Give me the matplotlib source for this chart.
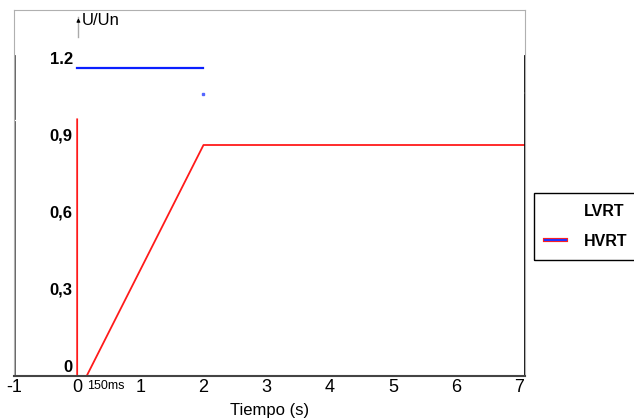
import numpy as np
import matplotlib
matplotlib.use('Agg')
import matplotlib.pyplot as plt
from matplotlib.lines import Line2D
from matplotlib.legend_handler import HandlerTuple
from matplotlib.patches import Rectangle

plt.rcParams['font.family'] = ['Liberation Sans', 'DejaVu Sans']

# Curvas LVRT / HVRT (tiempo en s, tension en p.u.)
lvrt_t = [0, 0, 0.15, 2.0, 7.1]
lvrt_u = [1.0, 0, 0, 0.9, 0.9]
hvrt_t = [0, 2.0]
hvrt_u = [1.2, 1.2]
hvrt_tail_t = [2.0]
hvrt_tail_u = [1.1]

x_ticks = [-1, 0, 1, 2, 3, 4, 5, 6, 7]
y_ticks = [0, 0.3, 0.6, 0.9, 1.2]
y_labels = ['0', '0,3', '0,6', '0,9', '1.2']

fig = plt.figure(figsize=(6.34, 4.19), dpi=100)
ax = fig.add_axes([14 / 634, 43 / 419, 511 / 634, 366 / 419])
ax.set_xlim(-0.98, 7.09)
ax.set_ylim(0, 1.426)

ax.plot(hvrt_t, hvrt_u, color='#0a1fff', lw=1.6)
ax.plot(hvrt_tail_t, hvrt_tail_u, 's', color='#5566ff', ms=1.5)
ax.plot(lvrt_t, lvrt_u, color='#ff1a1a', lw=1.3)

# eje vertical con flecha
ax.plot([0.02, 0.02], [1.32, 1.40], color='#aaaaaa', lw=1)
ax.annotate('', xy=(0.02, 1.405), xytext=(0.02, 1.37),
            arrowprops=dict(arrowstyle='-|>', color='black', lw=0.8, mutation_scale=5))
ax.text(0.08, 1.385, 'U/Un', fontsize=12, va='center', ha='left')

# ticks
ax.set_xticks(x_ticks)
ax.set_xticklabels([str(v) for v in x_ticks], fontsize=13)
ax.tick_params(axis='x', length=0, pad=2)
ax.set_yticks([])
for v, lab in zip(y_ticks, y_labels):
    ax.text(-0.07, v + 0.035, lab, ha='right', va='center', fontsize=12,
            fontweight='bold')

ax.text(0.16, -0.015, '150ms', fontsize=9, ha='left', va='top')
ax.set_xlabel('Tiempo (s)', fontsize=12, labelpad=5)

# marco
ax.spines['top'].set_color('#b0b0b0')
ax.spines['bottom'].set_color('#444444')
ax.spines['bottom'].set_linewidth(1.5)
for s in ['left', 'right']:
    ax.spines[s].set_color('#b0b0b0')
ax.axvline(ax.get_xlim()[0], ymin=0, ymax=0.695, color='#555555', lw=2)
ax.axvline(ax.get_xlim()[0], ymin=0.705, ymax=0.875, color='#555555', lw=2)
ax.axvline(ax.get_xlim()[1], ymin=0, ymax=0.77, color='black', lw=2)
ax.axvline(ax.get_xlim()[1], ymin=0.78, ymax=0.875, color='black', lw=2)

# leyenda (el marco sigue mas alla del borde derecho)
h_l = Line2D([], [], color='white', lw=0)
h_b = Line2D([], [], color='#ff2020', lw=3)
h_r = Line2D([], [], color='#2233ff', lw=1.5)
leg = fig.legend([h_l, (h_b, h_r)], ['LVRT', 'HVRT'],
                 handler_map={tuple: HandlerTuple(ndivide=1)},
                 loc='upper left', bbox_to_anchor=(534 / 634, 1 - 193 / 419),
                 borderaxespad=0, frameon=False,
                 prop={'size': 11.5, 'weight': 'bold'},
                 handlelength=1.3, handletextpad=1.1, labelspacing=0.9,
                 borderpad=0.7)
fig.canvas.draw()
bb = leg.get_window_extent().transformed(fig.transFigure.inverted())
fig.patches.append(Rectangle((bb.x0, bb.y0), 0.3, bb.height,
                             transform=fig.transFigure, fill=False,
                             edgecolor='black', lw=1.0))

fig.savefig('out.png', dpi=100)
